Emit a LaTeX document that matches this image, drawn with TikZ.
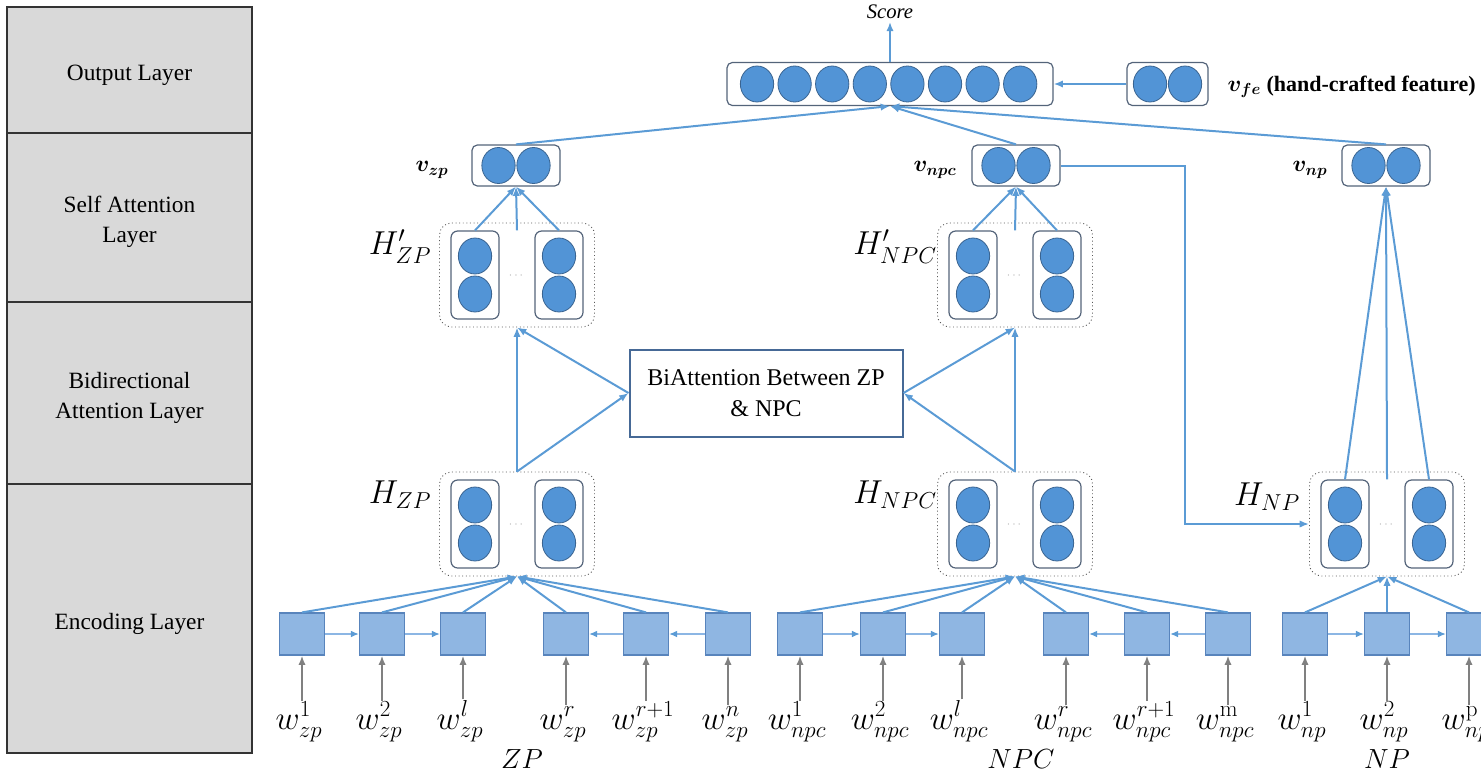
\documentclass[tikz,border=0pt]{standalone}
\usepackage{amsmath}
\usepackage[no-math]{fontspec}
\setmainfont{Liberation Serif}
\usepackage{bm}
\usetikzlibrary{arrows.meta,calc,shapes.geometric}

\definecolor{lblue}{RGB}{91,155,213}
\definecolor{nfill}{RGB}{82,148,214}
\definecolor{nedge}{RGB}{58,100,145}
\definecolor{boxedge}{RGB}{84,100,122}
\definecolor{sqfill}{RGB}{143,182,226}
\definecolor{sqedge}{RGB}{88,132,188}
\definecolor{thinblue}{RGB}{140,182,228}
\definecolor{layerfill}{RGB}{217,217,217}
\definecolor{garrow}{RGB}{128,128,128}
\definecolor{biedge}{RGB}{70,105,150}

% one hidden-state block: dotted frame, two cells of two units, dots between
\newcommand{\drawHblock}[3]{%
  \node[hbox] (#1) at (#2,#3) {};
  \node[cell] (#1-l) at ($(#1)+(-42,0)$) {};
  \node[cell] (#1-r) at ($(#1)+(42,0)$) {};
  \node[neuron] (#1-l1) at ($(#1-l)+(0,-19)$) {};
  \node[neuron] (#1-l2) at ($(#1-l)+(0,19)$) {};
  \node[neuron] (#1-r1) at ($(#1-r)+(0,-19)$) {};
  \node[neuron] (#1-r2) at ($(#1-r)+(0,19)$) {};
  \node[dots] (#1-dots) at ($(#1)+(0,1)$) {$\cdots$};
}

\begin{document}
\begin{tikzpicture}[x=0.75pt,y=-0.75pt,
  layer/.style={draw=black!80, fill=layerfill, line width=0.9pt, minimum width=183.75pt,
    inner sep=0pt, outer sep=0pt},
  laytext/.style={align=center, inner sep=0pt, font=\fontsize{17.5}{22.5}\selectfont},
  neuron/.style={ellipse, fill=nfill, draw=nedge, line width=0.6pt,
    minimum width=25pt, minimum height=27pt, inner sep=0pt},
  vecbox/.style={draw=boxedge, fill=white, rounded corners=4pt, line width=0.9pt, inner sep=0pt},
  hbox/.style={draw=gray!70!black, dotted, rounded corners=9pt, line width=0.7pt,
    minimum width=116.25pt, minimum height=78pt, inner sep=0pt},
  cell/.style={draw=boxedge, rounded corners=5pt, line width=0.9pt,
    minimum width=36pt, minimum height=66pt, inner sep=0pt},
  dots/.style={text=gray!60, font=\small, inner sep=0pt},
  sq/.style={rectangle, fill=sqfill, draw=sqedge, line width=0.9pt,
    minimum width=33.75pt, minimum height=31.5pt, inner sep=0pt},
  arr/.style={draw=lblue, line width=1.5pt, -{Latex[length=7pt,width=5.5pt]}},
  garr/.style={draw=garrow, line width=1.5pt, -{Latex[length=7pt,width=5.5pt]}},
  harr/.style={draw=thinblue, line width=1pt, -{Latex[length=6pt,width=5pt,color=lblue]}},
  hlab/.style={font=\fontsize{25}{28}\selectfont, inner sep=1pt},
  vlab/.style={font=\fontsize{17}{20}\selectfont, inner sep=1pt},
  word/.style={anchor=base, font=\fontsize{27}{32}\selectfont, inner sep=1pt},
  grp/.style={font=\fontsize{21}{24}\selectfont, inner sep=1pt},
  bistyle/.style={draw=biedge, line width=1.5pt, fill=white, align=center,
    minimum width=204.75pt, minimum height=65.25pt, inner sep=2pt,
    font=\fontsize{18}{23.5}\selectfont}
]
\useasboundingbox (0,0) rectangle (1481,771);
\clip (0,0) rectangle (1481,771);

% ---- layer column ----
\node[layer, minimum height=94.5pt]   (lay-out)  at (129.5,70)    {};
\node[layer, minimum height=126.75pt] (lay-self) at (129.5,217.5) {};
\node[layer, minimum height=136.5pt]  (lay-bi)   at (129.5,393)   {};
\node[layer, minimum height=201.75pt] (lay-enc)  at (129.5,618.5) {};
\node[laytext] (lay-out-t)  at ($(lay-out)+(0,5)$)  {Output Layer};
\node[laytext] (lay-self-t) at ($(lay-self)+(0,4)$) {Self Attention\\Layer};
\node[laytext] (lay-bi-t)   at ($(lay-bi)+(0,5)$)   {Bidirectional\\Attention Layer};
\node[laytext] (lay-enc-t)  at ($(lay-enc)+(0,5)$)  {Encoding Layer};

% ---- output layer ----
\node[vecbox, minimum width=244.5pt, minimum height=32.25pt] (outbox) at (890,84) {};
\foreach \i in {0,...,7}
  \node[neuron] (out\i) at ({757+37.6*\i},84) {};
\node[font=\itshape\fontsize{15.5}{18}\selectfont, inner sep=2pt] (score) at (890,12) {Score};
\draw[arr] (outbox.north) -- (score.south);

\node[vecbox, minimum width=60.75pt, minimum height=32.25pt] (vfe) at (1167.5,84) {};
\node[neuron] (vfe1) at (1150,84) {};
\node[neuron] (vfe2) at (1185,84) {};
\node[anchor=west, inner sep=1pt, font=\fontsize{16.5}{19}\selectfont] (vfe-lab) at (1226,87)
  {$\bm{v}_{\bm{fe}}$ \textbf{(hand-crafted feature)}};
\draw[arr] (vfe.west) -- (outbox.east);

% ---- self attention outputs ----
\node[vecbox, minimum width=66pt, minimum height=30.75pt] (vzp)  at (516,165.5)  {};
\node[vecbox, minimum width=66pt, minimum height=30.75pt] (vnpc) at (1016,165.5) {};
\node[vecbox, minimum width=66pt, minimum height=30.75pt] (vnp)  at (1386,165.5) {};
\foreach \v in {vzp,vnpc,vnp} {
  \node[neuron] (\v-a) at ($(\v)+(-17.5,0)$) {};
  \node[neuron] (\v-b) at ($(\v)+(17.5,0)$) {};
}
\node[vlab] (vzp-lab)  at (432,170)  {$\bm{v}_{\bm{zp}}$};
\node[vlab] (vnpc-lab) at (935,170)  {$\bm{v}_{\bm{npc}}$};
\node[vlab] (vnp-lab)  at (1310,170) {$\bm{v}_{\bm{np}}$};

\draw[arr] (vzp.north)  -- (outbox.south);
\draw[arr] (vnpc.north) -- (outbox.south);
\draw[arr] (vnp.north)  -- (outbox.south);

% ---- hidden-state blocks ----
\drawHblock{hpzp}{517}{275}
\drawHblock{hpnpc}{1015}{275}
\drawHblock{hzp}{517}{524}
\drawHblock{hnpc}{1015}{524}
\drawHblock{hnp}{1387}{524}

\node[hlab] (hpzp-lab)  at (400,247)  {$H'_{ZP}$};
\node[hlab] (hpnpc-lab) at (895,247)  {$H'_{NPC}$};
\node[hlab] (hzp-lab)   at (400,495)  {$H_{ZP}$};
\node[hlab] (hnpc-lab)  at (895,495)  {$H_{NPC}$};
\node[hlab] (hnp-lab)   at (1267,497) {$H_{NP}$};

\foreach \b/\v in {hpzp/vzp, hpnpc/vnpc, hnp/vnp} {
  \draw[arr] (\b-l.north) -- (\v.south);
  \draw[arr] (\b-r.north) -- (\v.south);
  \draw[arr] (\b-l.north -| \b.north) -- (\v.south);
}

% ---- bidirectional attention ----
\node[bistyle] (bi) at (766,393) {BiAttention Between ZP\\\& NPC};
\draw[arr] (hzp.north)  -- (hpzp.south);
\draw[arr] (hzp.north)  -- (bi.west);
\draw[arr] (bi.west)    -- (hpzp.south);
\draw[arr] (hnpc.north) -- (bi.east);
\draw[arr] (bi.east)    -- (hpnpc.south);
\draw[arr] (hnpc.north) -- (hpnpc.south);

% NPC summary feeds the NP encoder
\coordinate (turn) at (1185,300);
\draw[arr] (vnpc.east) -| (turn) |- (hnp.west);

% ---- encoding layer ----
\foreach \n/\x/\s in {1/302/1, 2/382/2, 3/463/l, 4/566/r, 5/646/r+1, 6/728/n} {
  \node[sq] (zp\n) at (\x,634) {};
  \node[word] (wzp\n) at (\x-3,729) {$w_{zp}^{\s}$};
  \draw[garr] (zp\n |- wzp\n.north) -- (zp\n.south);
  \draw[arr] (zp\n.north) -- (hzp.south);
}
\foreach \n/\x/\s in {1/800/1, 2/883/2, 3/962/l, 4/1066/r, 5/1147/r+1, 6/1228/\mathrm{m}} {
  \node[sq] (npc\n) at (\x,634) {};
  \node[word] (wnpc\n) at (\x-3,729) {$w_{npc}^{\s}$};
  \draw[garr] (npc\n |- wnpc\n.north) -- (npc\n.south);
  \draw[arr] (npc\n.north) -- (hnpc.south);
}
\foreach \n/\x/\s in {1/1305/1, 2/1387/2, 3/1469/\mathrm{p}} {
  \node[sq] (np\n) at (\x,634) {};
  \node[word] (wnp\n) at (\x-3,729) {$w_{np}^{\s}$};
  \draw[garr] (np\n |- wnp\n.north) -- (np\n.south);
  \draw[arr] (np\n.north) -- (hnp.south);
}

\draw[harr] (zp1) -- (zp2);
\draw[harr] (zp2) -- (zp3);
\draw[harr] (zp6) -- (zp5);
\draw[harr] (zp5) -- (zp4);
\draw[harr] (npc1) -- (npc2);
\draw[harr] (npc2) -- (npc3);
\draw[harr] (npc6) -- (npc5);
\draw[harr] (npc5) -- (npc4);
\draw[harr] (np1) -- (np2);
\draw[harr] (np2) -- (np3);

\node[grp] (g-zp)  at (522,759)  {$ZP$};
\node[grp] (g-npc) at (1021,759) {$NPC$};
\node[grp] (g-np)  at (1387,759) {$NP$};
\end{tikzpicture}
\end{document}
